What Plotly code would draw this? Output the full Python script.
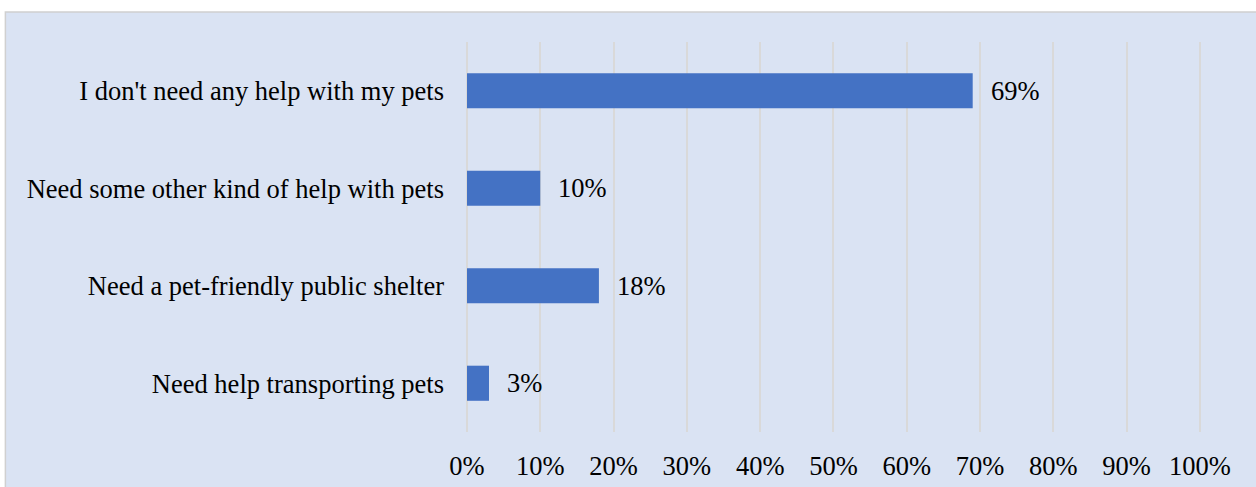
import plotly.graph_objects as go

categories = [
    "I don't need any help with my pets",
    "Need some other kind of help with pets",
    "Need a pet-friendly public shelter",
    "Need help transporting pets",
]
shares = [69, 10, 18, 3]
tick_values = [0, 10, 20, 30, 40, 50, 60, 70, 80, 90, 100]
tick_labels = [f"{v}%" for v in tick_values]

BG = "#DAE3F3"
BAR = "#4472C4"
GRID = "#D9D9D9"
FONT = "Liberation Serif, Times New Roman, serif"
FSIZE = 26.5

fig = go.Figure(
    go.Bar(
        x=shares,
        y=categories,
        orientation="h",
        marker=dict(color=BAR, line=dict(width=0)),
        hoverinfo="skip",
    )
)

for cat, val in zip(categories, shares):
    fig.add_annotation(
        x=val, y=cat, xref="x", yref="y",
        text=f"{val}%", showarrow=False,
        xanchor="left", xshift=16,
        font=dict(family=FONT, size=FSIZE, color="#000000"),
    )

# panel background with a thin border on the top and left
fig.add_shape(
    type="rect", xref="paper", yref="paper",
    x0=-0.6289, x1=1.2, y0=-0.3, y1=1.0769,
    fillcolor=BG, line=dict(color="#D0D0D0", width=1.5),
    layer="below",
)

fig.update_layout(
    width=1256, height=487,
    margin=dict(l=467, r=55, t=42, b=55, autoexpand=False),
    paper_bgcolor="#FFFFFF",
    plot_bgcolor="rgba(0,0,0,0)",
    bargap=0.64,
    showlegend=False,
    font=dict(family=FONT, size=FSIZE, color="#000000"),
    xaxis=dict(
        range=[0, 100.15],
        tickvals=tick_values,
        ticktext=tick_labels,
        showgrid=True, gridcolor=GRID, gridwidth=1.5,
        zeroline=True, zerolinecolor=GRID, zerolinewidth=1.5,
        showline=False, automargin=False,
        ticks="", ticklabelstandoff=15,
        tickfont=dict(family=FONT, size=FSIZE),
        fixedrange=True,
    ),
    yaxis=dict(
        autorange="reversed", automargin=False,
        showgrid=False, zeroline=False, showline=False,
        ticks="", ticklabelstandoff=22,
        tickfont=dict(family=FONT, size=FSIZE),
        fixedrange=True,
    ),
)

fig.write_html("out.html")
